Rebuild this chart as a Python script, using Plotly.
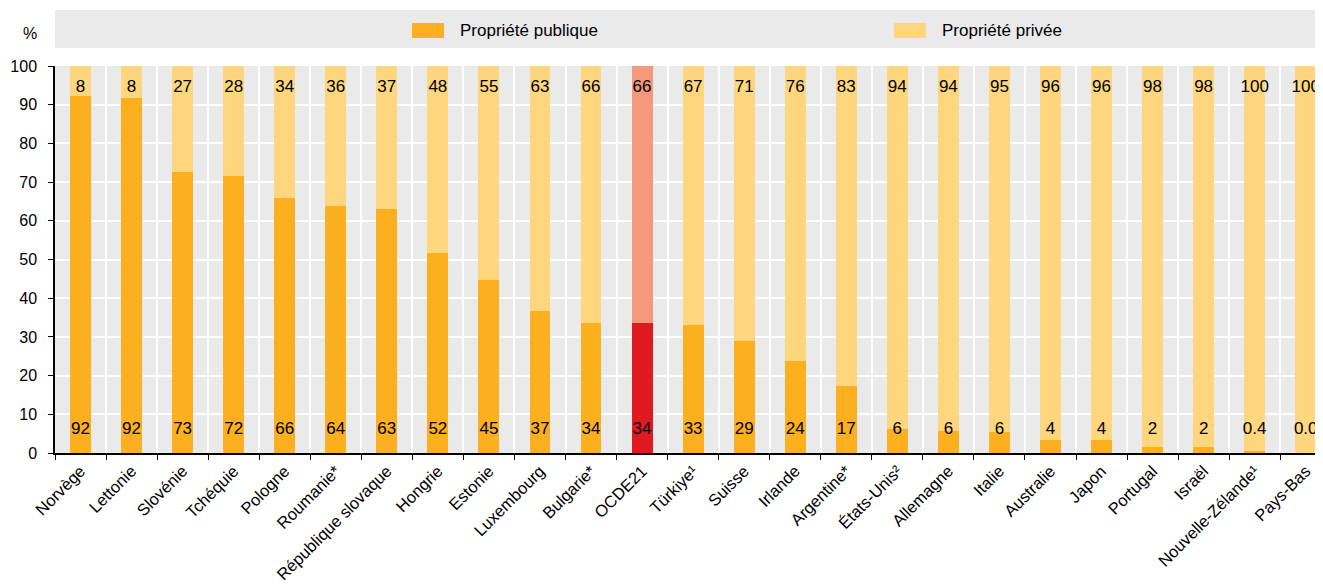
import plotly.graph_objects as go

categories = ["Norvège", "Lettonie", "Slovénie", "Tchéquie", "Pologne", "Roumanie*",
              "République slovaque", "Hongrie", "Estonie", "Luxembourg", "Bulgarie*",
              "OCDE21", "Türkiye¹", "Suisse", "Irlande", "Argentine*", "États-Unis²",
              "Allemagne", "Italie", "Australie", "Japon", "Portugal", "Israël",
              "Nouvelle-Zélande¹", "Pays-Bas"]
public_values = [92.2, 91.8, 72.7, 71.7, 65.8, 63.7, 63.0, 51.8, 44.6, 36.7, 33.7,
                 33.6, 33.2, 29.0, 23.8, 17.2, 6.2, 5.7, 5.5, 3.4, 3.4, 1.5, 1.5, 0.4, 0.0]
private_values = [round(100 - v, 1) for v in public_values]
public_labels = ["92", "92", "73", "72", "66", "64", "63", "52", "45", "37", "34", "34",
                 "33", "29", "24", "17", "6", "6", "6", "4", "4", "2", "2", "0.4", "0.0"]
private_labels = ["8", "8", "27", "28", "34", "36", "37", "48", "55", "63", "66", "66",
                  "67", "71", "76", "83", "94", "94", "95", "96", "96", "98", "98", "100", "100"]
y_ticks = [0, 10, 20, 30, 40, 50, 60, 70, 80, 90, 100]
highlight = "OCDE21"

PUB = "#FDB01F"
PRIV = "#FED67E"
PUB_H = "#E01A20"
PRIV_H = "#F4997B"
BG = "#EAEAEA"
FONT = "Liberation Sans, Arial, sans-serif"

pub_colors = [PUB_H if c == highlight else PUB for c in categories]
priv_colors = [PRIV_H if c == highlight else PRIV for c in categories]

OFF = 8  # page body margin
W, H = 1323 - OFF, 585 - OFF
L, R, T = 55 - OFF, 0, 66 - OFF
B = H - (453 - OFF)
PW, PH = W - L - R, H - T - B


def px(x):
    return (x - OFF - L) / PW


def py(y):
    return (H - B - (y - OFF)) / PH


fig = go.Figure()
fig.add_bar(x=categories, y=public_values, marker_color=pub_colors, width=0.41,
            name="Propriété publique", showlegend=False, marker_line_width=0)
fig.add_bar(x=categories, y=private_values, marker_color=priv_colors, width=0.41,
            name="Propriété privée", showlegend=False, marker_line_width=0)
fig.add_scatter(x=categories, y=[5.9] * len(categories), mode="text", text=public_labels,
                textfont=dict(size=17, color="black", family=FONT), showlegend=False,
                hoverinfo="skip", cliponaxis=False)
fig.add_scatter(x=categories, y=[94.3] * len(categories), mode="text", text=private_labels,
                textfont=dict(size=17, color="black", family=FONT), showlegend=False,
                hoverinfo="skip", cliponaxis=False)

shapes = [
    dict(type="rect", xref="paper", yref="paper", x0=px(55), x1=px(1320), y0=py(48), y1=py(10),
         fillcolor=BG, line_width=0, layer="below"),
    dict(type="rect", xref="paper", yref="paper", x0=px(412), x1=px(444), y0=py(38), y1=py(23),
         fillcolor=PUB, line_width=0),
    dict(type="rect", xref="paper", yref="paper", x0=px(894), x1=px(926), y0=py(38), y1=py(23),
         fillcolor=PRIV, line_width=0),
]
annotations = [
    dict(xref="paper", yref="paper", x=px(458), y=py(31), text="Propriété publique",
         showarrow=False, xanchor="left", yanchor="middle", font=dict(size=17, family=FONT)),
    dict(xref="paper", yref="paper", x=px(940), y=py(31), text="Propriété privée",
         showarrow=False, xanchor="left", yanchor="middle", font=dict(size=17, family=FONT)),
    dict(xref="paper", yref="paper", x=px(30), y=py(33), text="%",
         showarrow=False, xanchor="center", yanchor="middle", font=dict(size=16, family=FONT)),
]

fig.update_layout(
    width=W, height=H, barmode="stack",
    margin=dict(l=L, r=R, t=T, b=B, pad=0, autoexpand=False),
    plot_bgcolor=BG, paper_bgcolor="white",
    font=dict(family=FONT, size=16, color="black"),
    shapes=shapes, annotations=annotations,
    xaxis=dict(range=[-0.5, -0.5 + PW / 51.05], tickangle=-45, showgrid=True, gridcolor="white",
               gridwidth=2, tickson="boundaries", ticks="outside", ticklen=5, tickcolor="black",
               showline=True, linecolor="black", linewidth=2, tickfont=dict(size=16.5),
               fixedrange=True),
    yaxis=dict(range=[0, 100], tickvals=y_ticks, showgrid=True, gridcolor="white", gridwidth=2,
               ticks="outside", ticklen=5, tickcolor="black", showline=True, linecolor="black",
               linewidth=1.5, zeroline=False, tickfont=dict(size=16), ticklabelstandoff=8,
               fixedrange=True),
)

fig.write_html("out.html")
